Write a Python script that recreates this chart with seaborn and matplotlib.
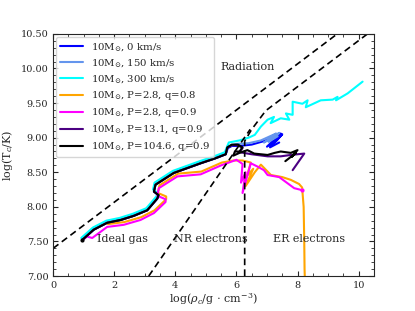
import numpy as np
import pandas as pd
import seaborn as sns
from matplotlib import pyplot as plt
from matplotlib.ticker import MultipleLocator, FormatStrFormatter

# main stem shared by the single-star / wide tracks
stem_x = [0.95, 1.33, 1.77, 2.21, 2.64, 3.08, 3.41, 3.45, 3.30, 3.35, 3.95, 4.39, 4.83, 5.30, 5.65]
stem_y = [7.52, 7.67, 7.77, 7.81, 7.87, 7.95, 8.12, 8.17, 8.22, 8.32, 8.49, 8.56, 8.63, 8.70, 8.76]

# stem of the close binaries (lower)
stem_b_x = [1.00, 1.11, 1.28, 1.77, 2.31, 2.86, 3.30, 3.68, 3.68, 3.41, 3.46, 4.07, 4.83, 5.50]
stem_b_y = [7.53, 7.57, 7.55, 7.71, 7.74, 7.81, 7.91, 8.07, 8.11, 8.16, 8.27, 8.44, 8.47, 8.60]

blue_x = stem_x + [5.72, 5.85, 6.10, 6.50, 6.90, 7.20, 7.45, 7.00, 7.30, 7.50, 7.10, 7.40]
blue_y = stem_y + [8.85, 8.88, 8.88, 8.90, 8.95, 9.00, 9.06, 8.87, 8.95, 9.05, 8.86, 8.93]

lblue_x = stem_x + [5.70, 6.00, 6.40, 6.80, 7.10, 7.30, 6.90, 7.20, 7.40, 7.05, 7.35]
lblue_y = [v + 0.015 for v in stem_y] + [8.87, 8.91, 8.92, 8.96, 9.02, 9.06, 8.93, 9.00, 9.07, 8.94, 9.02]

cyan_x = [v - 0.03 for v in stem_x] + [5.75, 6.10, 6.40, 6.60, 6.80, 7.02, 7.23, 7.12, 7.45, 7.73,
                                       7.62, 7.84, 7.84, 8.16, 8.33, 8.27, 8.76, 9.15, 9.31, 9.26,
                                       9.64, 10.13]
cyan_y = [v + 0.03 for v in stem_y] + [8.93, 8.96, 9.00, 9.04, 9.16, 9.26, 9.30, 9.21, 9.28, 9.26,
                                       9.35, 9.33, 9.52, 9.49, 9.54, 9.44, 9.54, 9.55, 9.59, 9.54,
                                       9.64, 9.81]

orange_x = [v + 0.02 for v in stem_b_x[3:]] + [5.90, 6.20, 6.47, 6.35, 6.55, 6.30, 6.60, 6.80, 7.13,
                                               7.50, 7.78, 8.05, 8.15, 8.20, 8.22, 8.23, 8.25]
orange_y = [v + 0.04 for v in stem_b_y[3:]] + [8.67, 8.67, 8.64, 8.45, 8.55, 8.30, 8.50, 8.61, 8.46,
                                               8.43, 8.39, 8.33, 8.28, 8.00, 7.50, 7.10, 6.80]

magenta_x = stem_b_x + [6.00, 6.20, 6.15, 6.30, 6.20, 6.47, 6.70, 6.90, 7.02, 7.40, 7.89, 8.16]
magenta_y = stem_b_y + [8.68, 8.62, 8.35, 8.50, 8.20, 8.63, 8.58, 8.53, 8.46, 8.43, 8.27, 8.24]

indigo_x = stem_x + [5.70, 5.85, 6.05, 6.20, 6.10, 6.50, 7.02, 7.45, 7.78, 8.22, 7.84]
indigo_y = stem_y + [8.85, 8.89, 8.89, 8.85, 8.79, 8.76, 8.73, 8.73, 8.75, 8.77, 8.53]

black_x = stem_x + [5.70, 5.85, 6.05, 6.20, 6.10, 5.95, 5.90, 6.10, 6.36, 6.58, 7.02, 7.25,
                    7.45, 7.78, 8.00, 7.80, 7.95, 7.60]
black_y = stem_y + [8.86, 8.90, 8.90, 8.86, 8.80, 8.80, 8.74, 8.78, 8.82, 8.77, 8.75, 8.78,
                    8.80, 8.78, 8.82, 8.72, 8.78, 8.66]

tracks = [
    (r'10M$_{\odot}$, 0 km/s', blue_x, blue_y, 'blue'),
    (r'10M$_{\odot}$, 150 km/s', lblue_x, lblue_y, 'cornflowerblue'),
    (r'10M$_{\odot}$, 300 km/s', cyan_x, cyan_y, 'cyan'),
    (r'10M$_{\odot}$, P=2.8, q=0.8', orange_x, orange_y, 'orange'),
    (r'10M$_{\odot}$, P=2.8, q=0.9', magenta_x, magenta_y, 'magenta'),
    (r'10M$_{\odot}$, P=13.1, q=0.9', indigo_x, indigo_y, 'indigo'),
    (r'10M$_{\odot}$, P=104.6, q=0.9', black_x, black_y, 'black'),
]

# regime boundaries
rad_x = [0.0, 10.5]
rad_y = [7.40, 7.40 + 10.5 / 3]
nr_x = [3.13, 6.45]
nr_y = [7.0, 9.12]
er_x = [6.27, 6.27, 6.50, 6.96, 10.5]
er_y = [7.0, 8.95, 9.12, 9.39, 9.39 + (10.5 - 6.96) / 3]

sns.set_style('ticks')
plt.rcParams['font.family'] = ['DejaVu Serif']
plt.rcParams['mathtext.fontset'] = 'dejavuserif'

fig, ax = plt.subplots(figsize=(4.15, 3.11), dpi=100)
fig.subplots_adjust(left=0.128, right=0.901, bottom=0.1125, top=0.891)

for lab, xs, ys, col in tracks:
    df = pd.DataFrame({'x': xs, 'y': ys})
    sns.lineplot(data=df, x='x', y='y', sort=False, estimator=None, color=col,
                 lw=1.5, label=lab, ax=ax)

ax.plot(black_x[0], black_y[0], 'o', color='black', ms=2)
ax.plot(magenta_x[-1], magenta_y[-1], 'o', color='magenta', ms=2)

for bx, by in [(rad_x, rad_y), (nr_x, nr_y), (er_x, er_y)]:
    ax.plot(bx, by, ls=(0, (4, 2.5)), color='black', lw=1.2)

ax.text(6.35, 10.02, 'Radiation', fontsize=8, ha='center', va='center')
ax.text(2.28, 7.54, 'Ideal gas', fontsize=8, ha='center', va='center')
ax.text(5.17, 7.54, 'NR electrons', fontsize=8, ha='center', va='center')
ax.text(8.39, 7.54, 'ER electrons', fontsize=8, ha='center', va='center')

ax.set_xlim(0, 10.5)
ax.set_ylim(7.0, 10.5)
ax.xaxis.set_major_locator(MultipleLocator(2))
ax.xaxis.set_minor_locator(MultipleLocator(0.5))
ax.yaxis.set_major_locator(MultipleLocator(0.5))
ax.yaxis.set_minor_locator(MultipleLocator(0.1))
ax.yaxis.set_major_formatter(FormatStrFormatter('%.2f'))
ax.tick_params(which='both', direction='in', top=True, right=True, labelsize=7)
ax.tick_params(which='major', length=3.5)
ax.tick_params(which='minor', length=2)
ax.set_xlabel(r'log($\rho_c$/g $\cdot$ cm$^{-3}$)', fontsize=8, labelpad=1)
ax.set_ylabel(r'log(T$_c$/K)', fontsize=8)

ax.legend(loc='upper left', fontsize=7.3, handlelength=2.2, borderaxespad=0.3,
          labelspacing=0.4)

plt.savefig('out.png', dpi=100)
